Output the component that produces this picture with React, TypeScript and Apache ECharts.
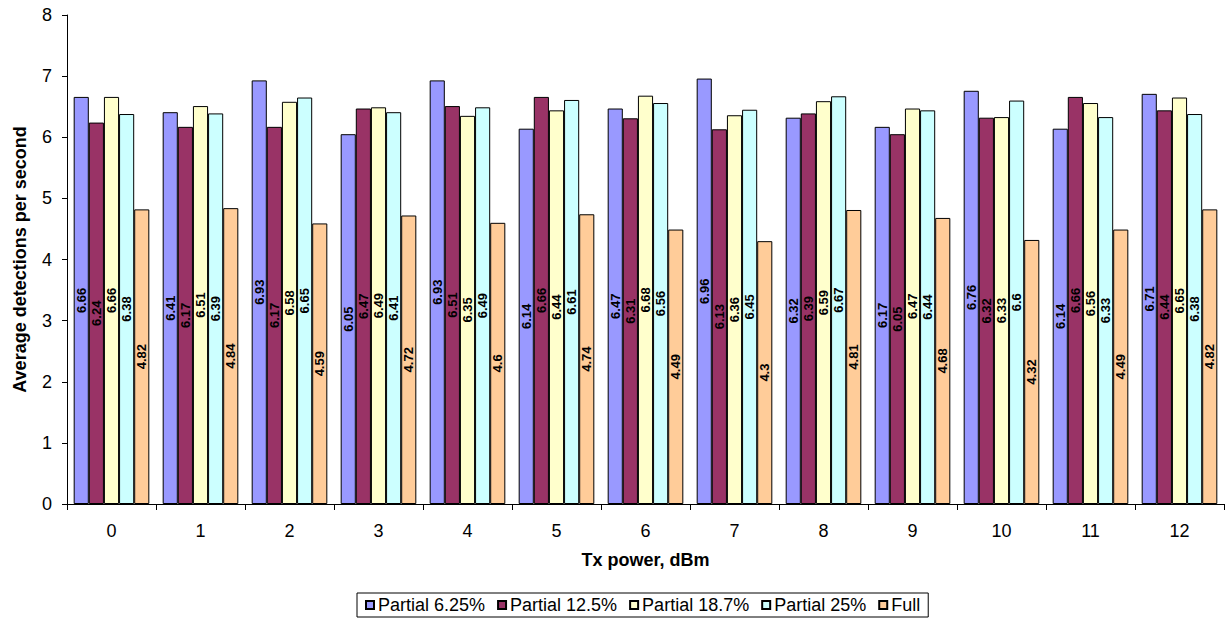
import React, { useEffect, useRef } from "react";
import * as echarts from "echarts";

const txPower = ["0", "1", "2", "3", "4", "5", "6", "7", "8", "9", "10", "11", "12"];

const partial625 = [6.66, 6.41, 6.93, 6.05, 6.93, 6.14, 6.47, 6.96, 6.32, 6.17, 6.76, 6.14, 6.71];
const partial125 = [6.24, 6.17, 6.17, 6.47, 6.51, 6.66, 6.31, 6.13, 6.39, 6.05, 6.32, 6.66, 6.44];
const partial187 = [6.66, 6.51, 6.58, 6.49, 6.35, 6.44, 6.68, 6.36, 6.59, 6.47, 6.33, 6.56, 6.65];
const partial25 = [6.38, 6.39, 6.65, 6.41, 6.49, 6.61, 6.56, 6.45, 6.67, 6.44, 6.6, 6.33, 6.38];
const full = [4.82, 4.84, 4.59, 4.72, 4.6, 4.74, 4.49, 4.3, 4.81, 4.68, 4.32, 4.49, 4.82];

const seriesNames = ["Partial 6.25%", "Partial 12.5%", "Partial 18.7%", "Partial 25%", "Full"];
const seriesColors = ["#9999FF", "#993366", "#FFFFCC", "#CCFFFF", "#FFCC99"];
const seriesData = [partial625, partial125, partial187, partial25, full];

const FONT = 'Arial, "Liberation Sans", sans-serif';

export default function App() {
  const ref = useRef<HTMLDivElement>(null);

  useEffect(() => {
    if (!ref.current) return;
    const chart = echarts.init(ref.current, undefined, { renderer: "svg" });
    chart.setOption({
      animation: false,
      backgroundColor: "#ffffff",
      textStyle: { fontFamily: FONT },
      grid: { left: 67, right: 4, top: 15, bottom: 115, containLabel: false },
      legend: {
        data: seriesNames,
        top: 593,
        left: 357,
        orient: "horizontal",
        itemWidth: 8,
        itemHeight: 8,
        itemGap: 12,
        icon: "rect",
        borderColor: "#000",
        borderWidth: 1,
        padding: [3, 8, 3, 8],
        textStyle: { fontSize: 18, color: "#000", fontFamily: FONT, padding: [0, 0, 0, -1] },
      },
      xAxis: {
        type: "category",
        data: txPower,
        name: "Tx power, dBm",
        nameLocation: "middle",
        nameGap: 47,
        nameTextStyle: { fontSize: 18, fontWeight: "bold", color: "#000", fontFamily: FONT },
        axisLine: { lineStyle: { color: "#000", width: 1 } },
        axisTick: { show: true, length: 6, interval: 0, lineStyle: { color: "#000" } },
        axisLabel: { fontSize: 18, color: "#000", margin: 18, fontFamily: FONT },
        splitLine: { show: false },
      },
      yAxis: {
        type: "value",
        min: 0,
        max: 8,
        interval: 1,
        name: "Average detections per second",
        nameLocation: "middle",
        nameGap: 38,
        nameTextStyle: { fontSize: 18, fontWeight: "bold", color: "#000", fontFamily: FONT },
        axisLine: { show: true, lineStyle: { color: "#000", width: 1 } },
        axisTick: { show: true, length: 5, lineStyle: { color: "#000" } },
        axisLabel: { fontSize: 18, color: "#000", margin: 15, fontFamily: FONT },
        splitLine: { show: false },
      },
      series: seriesData.map((vals, i) => ({
        name: seriesNames[i],
        type: "bar",
        data: vals,
        barGap: "0%",
        barCategoryGap: "15%",
        itemStyle: { color: seriesColors[i], borderColor: "#000", borderWidth: 1 },
        label: {
          show: true,
          position: "inside",
          rotate: 90,
          fontSize: 13,
          fontWeight: "bold",
          color: "#000",
          fontFamily: FONT,
          formatter: (p: any) => String(p.value),
        },
      })),
    });
    return () => chart.dispose();
  }, []);

  return (
    <div
      ref={ref}
      style={{ position: "fixed", left: 0, top: 0, width: 1228, height: 619 }}
    />
  );
}
